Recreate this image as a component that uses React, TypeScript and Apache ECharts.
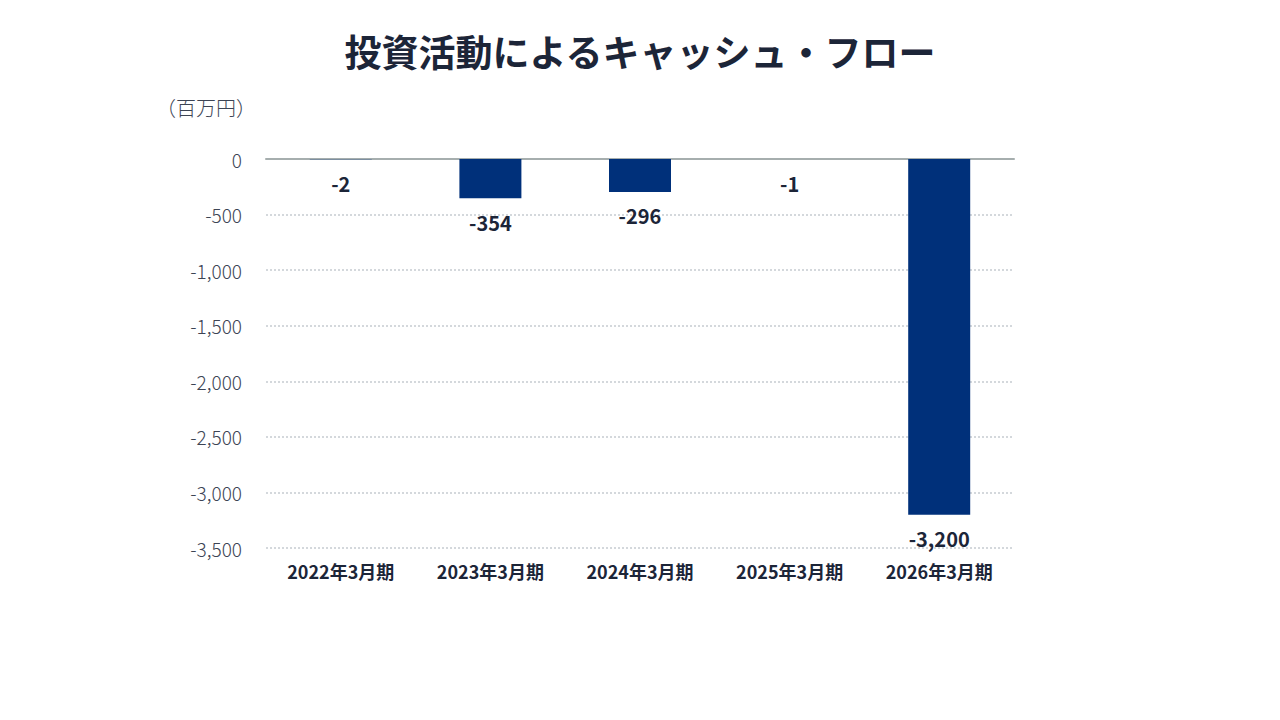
import React, { useEffect, useRef } from "react";
import * as echarts from "echarts";

const categories = ["2022年3月期", "2023年3月期", "2024年3月期", "2025年3月期", "2026年3月期"];
const values = [-2, -354, -296, -1, -3200];
const yMin = -3500;
const yMax = 0;
const yInterval = 500;

const FONT = '"Noto Sans CJK JP", "Noto Sans", sans-serif';

export default function App() {
  const ref = useRef<HTMLDivElement>(null);
  useEffect(() => {
    if (!ref.current) return;
    const chart = echarts.init(ref.current, undefined, { renderer: "svg" });
    chart.setOption({
      animation: false,
      backgroundColor: "#ffffff",
      title: {
        text: "投資活動によるキャッシュ・フロー",
        left: "center",
        top: 27,
        textStyle: { fontFamily: FONT, fontSize: 37, fontWeight: "bold", color: "#1c2538" },
      },
      graphic: [
        {
          type: "text",
          left: 156,
          top: 97,
          style: { text: "（百万円）", fontFamily: FONT, fontSize: 20, fill: "#3c4454", fontWeight: 300 },
        },
      ],
      grid: { left: 266, right: 266, top: 159, bottom: 172 },
      xAxis: [
        {
          type: "category",
          data: categories,
          position: "bottom",
          axisLine: { show: false, onZero: false },
          axisTick: { show: false },
          axisLabel: {
            margin: 14,
            fontFamily: FONT,
            fontSize: 18,
            fontWeight: "bold",
            color: "#1c2538",
          },
        },
        {
          type: "category",
          data: categories,
          position: "top",
          axisLine: { show: true, onZero: false, lineStyle: { color: "#a6aeae", width: 2 } },
          axisTick: { show: false },
          axisLabel: { show: false },
        },
      ],
      yAxis: {
        type: "value",
        min: yMin,
        max: yMax,
        interval: yInterval,
        axisLine: { show: false },
        axisTick: { show: false },
        axisLabel: {
          margin: 24,
          fontFamily: FONT,
          fontSize: 19,
          fontWeight: 300,
          color: "#3c4454",
          formatter: (v: number) => v.toLocaleString("en-US"),
        },
        splitLine: { lineStyle: { color: "#d4d8dc", type: "dotted", width: 2 } },
      },
      series: [
        {
          type: "bar",
          data: values,
          barWidth: 62,
          itemStyle: { color: "#00307a" },
          label: {
            show: true,
            position: "outside",
            distance: 14,
            fontFamily: FONT,
            fontSize: 20,
            fontWeight: "bold",
            color: "#1c2538",
            formatter: (p: any) => Number(p.value).toLocaleString("en-US"),
          },
        },
      ],
    });
    return () => chart.dispose();
  }, []);
  return <div ref={ref} style={{ position: "fixed", left: 0, top: 0, width: 1280, height: 720 }} />;
}
